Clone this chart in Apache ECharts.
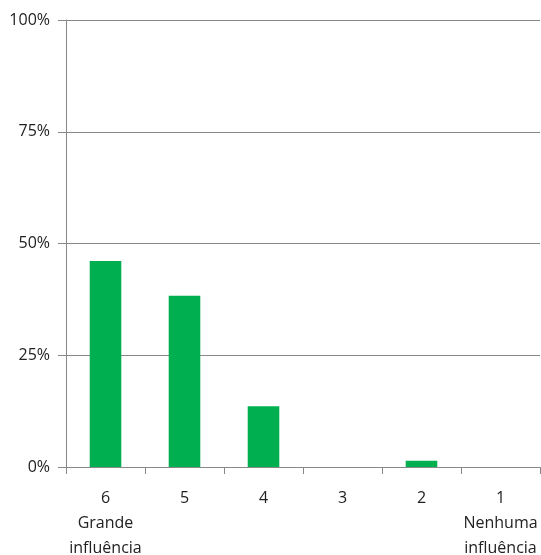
<!DOCTYPE html>
<html><head><meta charset="utf-8">
<script src="https://cdn.jsdelivr.net/npm/echarts@6/dist/echarts.min.js"></script>
<style>html,body{margin:0;padding:0;background:#fff}#c{width:541px;height:555px}</style>
</head><body><div id="c"></div>
<script>
const categories = ["6\nGrande\ninfluência", "5", "4", "3", "2", "1\nNenhuma\ninfluência"];
const values = [46.1, 38.3, 13.6, 0, 1.4, 0];
const yTicks = [0, 25, 50, 75, 100];

const chart = echarts.init(document.getElementById('c'));
const font = "'Liberation Sans Narrow', 'Open Sans', sans-serif";
chart.setOption({
  animation: false,
  grid: { left: 66, right: 1, top: 20, bottom: 88, outerBoundsMode: 'none', containLabel: false },
  xAxis: {
    type: 'category', data: categories,
    axisLine: { lineStyle: { color: '#888', width: 1 } },
    axisTick: { show: true, length: 7, alignWithLabel: false, lineStyle: { color: '#888' } },
    axisLabel: { color: '#222', fontSize: 16, fontFamily: font, margin: 19, lineHeight: 25, interval: 0 }
  },
  yAxis: {
    type: 'value', min: 0, max: 100, interval: 25,
    axisLine: { show: true, lineStyle: { color: '#888' } },
    axisTick: { show: true, length: 8, lineStyle: { color: '#888' } },
    splitLine: { lineStyle: { color: '#888', width: 1 } },
    axisLabel: { color: '#222', fontSize: 16, fontFamily: font, margin: 16,
      formatter: v => yTicks.includes(v) ? v + '%' : '' }
  },
  series: [{ type: 'bar', data: values, barWidth: '40%', itemStyle: { color: '#00B050' } }]
});
</script></body></html>
